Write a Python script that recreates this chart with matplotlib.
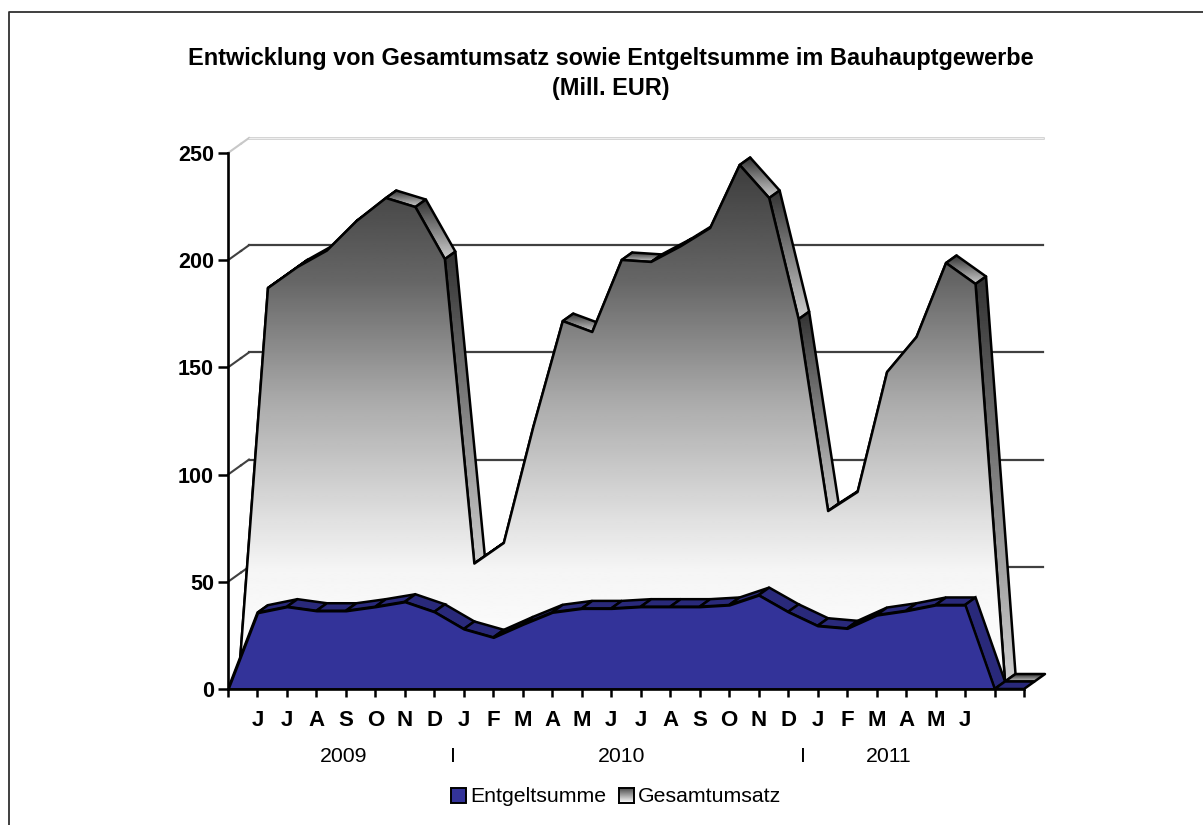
import numpy as np
import matplotlib
matplotlib.use('Agg')
import matplotlib.pyplot as plt
from matplotlib.patches import Polygon, Rectangle
from matplotlib.lines import Line2D

# values, index 0 is the empty slot left of the first J
entgelt = [0, 35.6, 38.4, 36.5, 36.5, 38.4, 40.7, 36, 28, 24.1, 30.2, 35.8, 37.6, 37.6, 38.4, 38.4, 38.4,
           39.2, 43.8, 36, 29.5, 28.3, 34.5, 36.5, 39.2, 39.2, 0, 0]
umsatz = [0, 183.5, 193.3, 201, 214.7, 225.5, 221.3, 197, 55, 64.6, 118.7, 168.1, 163, 196.6, 195.7, 203, 211.5,
          240.9, 225.5, 169, 79.5, 88.4, 144.3, 160.7, 195.2, 185.4, 0, 0]
months = ['J', 'J', 'A', 'S', 'O', 'N', 'D', 'J', 'F', 'M', 'A', 'M', 'J', 'J', 'A', 'S', 'O', 'N', 'D', 'J', 'F',
          'M', 'A', 'M', 'J']
year_labels = ['2009', 'I', '2010', 'I', '2011']
year_pos = [3.93, 7.63, 13.35, 19.5, 22.4]
y_ticks = [0, 50, 100, 150, 200, 250]

W, H = 1203, 825
FONT = 'Liberation Sans'
BLUE = '#333399'
BLUE_SIDE = '#29297a'
OUTLINE = 1.8

# pixel layout of the plot
x0, x1 = 228, 1050
y0, y1 = 689, 130
px_x = (1024 - 228) / 27
px_y = (689 - 153) / 250
# one series is this deep, in data units
dx = 10.5 / px_x
dy = 7.5 / px_y

fig = plt.figure(figsize=(W / 100, H / 100), dpi=100)
ax = fig.add_axes([x0 / W, 1 - y0 / H, (x1 - x0) / W, (y0 - y1) / H])
ax.patch.set_visible(False)


def front_grey(y_px):
    # grey level of the big front face against pixel height
    stops = [130, 160, 280, 400, 530, 570, 690]
    levels = [0x38, 0x3c, 0x66, 0xaa, 0xe5, 0xf5, 0xff]
    return np.interp(y_px, stops, levels) / 255


def gradient_poly(pts, top=None, bottom=None, z=2, lw=OUTLINE):
    # polygon filled with a vertical grey gradient, with black outline
    pts = np.array(pts)
    xa, xb = pts[:, 0].min(), pts[:, 0].max()
    ya, yb = pts[:, 1].min(), pts[:, 1].max()
    if yb - ya < 0.01:
        return
    if top is None:
        px = np.linspace(y0 - yb * px_y, y0 - ya * px_y, 256)
        col = front_grey(px)
    else:
        col = np.linspace(top, bottom, 64)
    im = ax.imshow(col.reshape(-1, 1), cmap='gray', vmin=0, vmax=1, extent=[xa, xb, ya, yb], origin='upper',
                   aspect='auto', zorder=z, interpolation='bilinear')
    p = Polygon(pts, closed=True, facecolor='none', edgecolor='black', linewidth=lw, zorder=z, joinstyle='round')
    ax.add_patch(p)
    im.set_clip_path(p)


# back wall grid
for v in y_ticks[1:]:
    col = '#c8c8c8' if v == 250 else '#404040'
    ax.plot([0, 0.62 * dx * 2], [v, v + 0.62 * dy * 2 * 1.0], color=col, lw=1.5, zorder=1, clip_on=False)
    ax.plot([0.62 * dx * 2, 2 * dx], [v + 0.62 * dy * 2, v + 2 * dy], color=col, lw=1.5, zorder=1, clip_on=False)
    ax.plot([2 * dx, 26.93 + 2 * dx], [v + 2 * dy, v + 2 * dy], color=col, lw=1.8 if v == 250 else 1.6, zorder=1,
            clip_on=False)
    if v == 250:
        # the top line of the wall is a double one
        ax.plot([2 * dx, 26.93 + 2 * dx], [v + 2 * dy, v + 2 * dy], color='white', lw=0.5, zorder=1, clip_on=False)

xs = np.arange(len(umsatz))

# Gesamtumsatz, sits one depth behind the front
for i in range(len(xs) - 1):
    a = (xs[i] + dx, umsatz[i] + dy)
    b = (xs[i + 1] + dx, umsatz[i + 1] + dy)
    c = (xs[i + 1] + 2 * dx, umsatz[i + 1] + 2 * dy)
    d = (xs[i] + 2 * dx, umsatz[i] + 2 * dy)
    if umsatz[i + 1] < umsatz[i] or (i > 0 and umsatz[i + 1] == 0):
        gradient_poly([a, b, c, d], top=0.2, bottom=0.8, z=3)
    else:
        gradient_poly([a, b, c, d], top=0.3, bottom=0.8, z=3)
front = [(x + dx, v + dy) for x, v in zip(xs[:27], umsatz[:27])]
gradient_poly(front, z=4)

# Entgeltsumme in front
for i in range(len(xs) - 1):
    quad = [(xs[i], entgelt[i]), (xs[i + 1], entgelt[i + 1]), (xs[i + 1] + dx, entgelt[i + 1] + dy),
            (xs[i] + dx, entgelt[i] + dy)]
    ax.add_patch(Polygon(quad, closed=True, facecolor=BLUE_SIDE, edgecolor='black', linewidth=OUTLINE, zorder=5))
ax.fill_between(xs[:27], entgelt[:27], 0, facecolor=BLUE, edgecolor='black', linewidth=OUTLINE, zorder=6)

ax.set_xlim(0, (x1 - x0) / px_x)
ax.set_ylim(0, (y0 - y1) / px_y)

for s in ['top', 'right']:
    ax.spines[s].set_visible(False)
ax.spines['left'].set_bounds(0, 250)
ax.spines['bottom'].set_bounds(0, 27)
ax.spines['left'].set_linewidth(1.9)
ax.spines['bottom'].set_linewidth(1.9)
ax.spines['left'].set_zorder(8)
ax.spines['bottom'].set_zorder(8)

ax.set_yticks(y_ticks)
ax.set_yticklabels([str(v) for v in y_ticks], fontfamily=FONT, fontweight='bold', fontsize=15.5)
ax.set_xticks(np.arange(28))
ax.set_xticklabels([''] + months + ['', ''], fontfamily=FONT, fontweight='bold', fontsize=16)
ax.tick_params(axis='y', length=7, width=1.8, pad=3)
ax.tick_params(axis='x', length=6, width=1.8, pad=9)

# year row under the months
trans = ax.get_xaxis_transform()
for lab, pos in zip(year_labels, year_pos):
    ax.text(pos, -68 / (y0 - y1), lab, transform=trans, ha='center', va='center', fontfamily=FONT, fontsize=15.3)

# title
fig.text(611 / W, 1 - 59 / H, 'Entwicklung von Gesamtumsatz sowie Entgeltsumme im Bauhauptgewerbe', ha='center',
         va='center', fontfamily=FONT, fontweight='bold', fontsize=16.9)
fig.text(611 / W, 1 - 89 / H, '(Mill. EUR)', ha='center', va='center', fontfamily=FONT, fontweight='bold',
         fontsize=16.9)

# legend
fig.add_artist(Rectangle((450.5 / W, 1 - 802.5 / H), 15 / W, 15 / H, transform=fig.transFigure, facecolor=BLUE,
                         edgecolor='black', linewidth=1.4))
fig.text(470 / W, 1 - 796 / H, 'Entgeltsumme', ha='left', va='center', fontfamily=FONT, fontsize=15.3)
sw = fig.add_axes([618.5 / W, 1 - 802.5 / H, 15 / W, 15 / H])
sw.imshow(np.linspace(0.25, 1, 32).reshape(-1, 1), cmap='gray', vmin=0, vmax=1, aspect='auto')
sw.set_xticks([])
sw.set_yticks([])
for s in sw.spines.values():
    s.set_linewidth(1.4)
fig.text(638 / W, 1 - 796 / H, 'Gesamtumsatz', ha='left', va='center', fontfamily=FONT, fontsize=15.3)

# outer frame, open at the bottom and on the right
fig.add_artist(Line2D([8.5 / W, 8.5 / W, 1], [0, 1 - 12 / H, 1 - 12 / H], color='#303030', lw=1.3,
                      transform=fig.transFigure))

fig.savefig('out.png', dpi=100)
